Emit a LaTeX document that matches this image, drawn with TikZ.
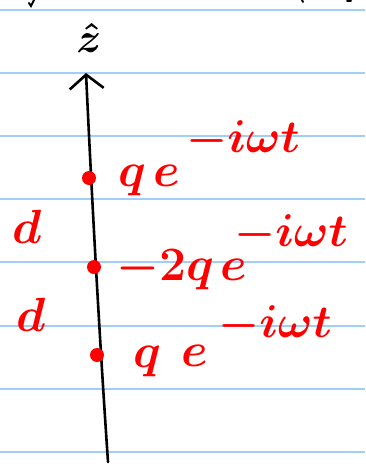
\RequirePackage{fix-cm}
\documentclass[tikz,border=0pt]{standalone}
\usepackage{amsmath}
\usepackage{tikz}
\usetikzlibrary{arrows.meta, positioning}
\tikzset{
  >=latex,
  rule/.style={line width=1.6pt, ruleblue},
  axis/.style={line width=2.6pt, black, line cap=round},
  axislabel/.style={black, inner sep=0pt, font=\fontsize{42}{42}\selectfont\boldmath},
  charge/.style={circle, fill=red, inner sep=0pt, minimum size=14pt},
  hand/.style={red, inner sep=0pt, anchor=base west, font=\fontsize{48}{48}\selectfont\boldmath},
  handsup/.style={red, inner sep=0pt, anchor=base west, font=\fontsize{46}{46}\selectfont\boldmath},
  frag/.style={line width=2pt, black, line cap=round}
}
\definecolor{ruleblue}{RGB}{160,205,250}

\begin{document}
\begin{tikzpicture}[x=1pt, y=-1pt]
\useasboundingbox (0,0) rectangle (365,466);

% Ruled lines of the page
\foreach \yy in {10,73,136,199,262,326,389,452}
  \draw[rule] (0,\yy) -- (365,\yy);

% Bits of writing cut off at the top
\draw[frag] (29,3) -- (31,6) -- (34,0);
\draw[frag] (302,0) -- (303,2);
\draw[frag] (347,1) -- (351,1);

% -------- z axis --------
\coordinate (bot) at (108,462);
\coordinate (top) at (86,73);
\node[axislabel] (zhat) at (89,38) {$\hat{z}$};
\draw[axis, -{Straight Barb[length=14pt, width=34pt, line width=2.6pt]}]
  (bot) .. controls (99,330) and (92,200) .. (top);

% -------- Charges --------
\node[charge] (c1) at (89,178) {};
\node[charge] (c2) at (94,267) {};
\node[charge] (c3) at (97,355) {};

% Top charge
\node[hand] (q1) at (118,186) {$q$};
\node[hand] (e1) at (153,186) {$e$};
\node[handsup] (s1) at (186,152) {$-i\omega t$};

% Middle charge
\node[hand] (q2) at (116,280) {$-2q$};
\node[hand] (e2) at (220,280) {$e$};
\node[handsup] (s2) at (234,246) {$-i\omega t$};

% Bottom charge
\node[hand] (q3) at (133,367) {$q$};
\node[hand] (e3) at (181,366) {$e$};
\node[handsup] (s3) at (218,337) {$-i\omega t$};

% Spacings
\node[hand] (d1) at (12,243) {$d$};
\node[hand] (d2) at (16,331) {$d$};

\end{tikzpicture}
\end{document}
